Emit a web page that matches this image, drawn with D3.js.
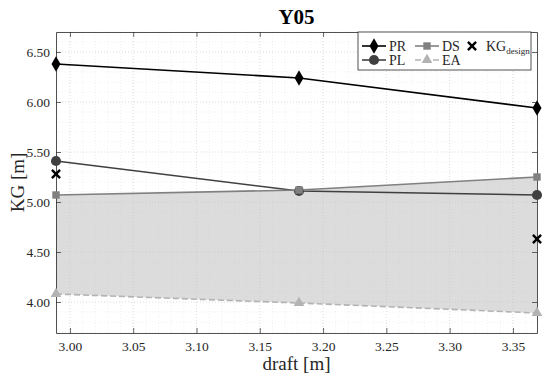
<!DOCTYPE html>
<html>
<head>
<meta charset="utf-8">
<script src="https://cdn.jsdelivr.net/npm/d3@7"></script>
<style>
  body { margin: 0; background: #fff; }
  svg { display: block; font-family: "Liberation Serif", "DejaVu Serif", serif; }
  svg text { font-family: "Liberation Serif", "DejaVu Serif", serif; }
</style>
</head>
<body>
<svg width="550" height="379"></svg>
<script>
const width = 550
const height = 379

// data
const draft = [2.989, 3.181, 3.369]
const PR = [6.38, 6.24, 5.94]
const PL = [5.41, 5.11, 5.07]
const DS = [5.07, 5.12, 5.25]
const EA = [4.08, 3.99, 3.89]
const kgDesign = [[2.989, 5.28], [3.369, 4.63]]

const xTicks = [3.00, 3.05, 3.10, 3.15, 3.20, 3.25, 3.30, 3.35]
const yTicks = [4.00, 4.50, 5.00, 5.50, 6.00, 6.50]

const margin = {top: 32, right: 13, bottom: 46, left: 56}

const svg = d3.select('svg')

const x = d3.scaleLinear()
  .domain([2.989, 3.369])
  .range([margin.left, width - margin.right])

const y = d3.scaleLinear()
  .domain([3.69, 6.70])
  .range([height - margin.bottom, margin.top])

const x0 = margin.left, x1 = width - margin.right
const y0 = height - margin.bottom, y1 = margin.top

// minor grid
const xMinor = d3.range(2.99, 3.37, 0.01)
const yMinor = d3.range(3.7, 6.71, 0.1)
const grid = svg.append('g')
grid.selectAll('.xm').data(xMinor).join('line')
  .attr('x1', d => x(d)).attr('x2', d => x(d))
  .attr('y1', y1).attr('y2', y0)
  .attr('stroke', '#e6e6e6').attr('stroke-width', 0.6)
  .attr('stroke-dasharray', '1,2')
grid.selectAll('.ym').data(yMinor).join('line')
  .attr('y1', d => y(d)).attr('y2', d => y(d))
  .attr('x1', x0).attr('x2', x1)
  .attr('stroke', '#e6e6e6').attr('stroke-width', 0.6)
  .attr('stroke-dasharray', '1,2')
// major grid
grid.selectAll('.xM').data(xTicks).join('line')
  .attr('x1', d => x(d)).attr('x2', d => x(d))
  .attr('y1', y1).attr('y2', y0)
  .attr('stroke', '#d8d8d8').attr('stroke-width', 0.7)
  .attr('stroke-dasharray', '1,2')
grid.selectAll('.yM').data(yTicks).join('line')
  .attr('y1', d => y(d)).attr('y2', d => y(d))
  .attr('x1', x0).attr('x2', x1)
  .attr('stroke', '#d8d8d8').attr('stroke-width', 0.7)
  .attr('stroke-dasharray', '1,2')

// shaded band between DS and EA
const band = d3.area()
  .x((d, i) => x(draft[i]))
  .y0((d, i) => y(EA[i]))
  .y1(d => y(d))
svg.append('path')
  .datum(DS)
  .attr('d', band)
  .attr('fill', '#c4c4c4')
  .attr('fill-opacity', 0.6)

// axes (ticks inside, on all four sides)
const fmt = d3.format('.2f')
const styleAxis = g => {
  g.attr('font-family', '"Liberation Serif", serif').attr('font-size', 13.5)
  g.select('.domain').attr('stroke', '#262626').attr('stroke-width', 0.8)
  g.selectAll('.tick line').attr('stroke', '#262626').attr('stroke-width', 0.7)
  g.selectAll('.tick text').attr('fill', '#262626')
}
svg.append('g')
  .attr('transform', `translate(0,${y0})`)
  .call(d3.axisBottom(x).tickValues(xTicks).tickFormat(fmt).tickSizeInner(-5).tickSizeOuter(0).tickPadding(8))
  .call(styleAxis)
svg.append('g')
  .attr('transform', `translate(0,${y1})`)
  .call(d3.axisTop(x).tickValues(xTicks).tickFormat('').tickSizeInner(-5).tickSizeOuter(0))
  .call(styleAxis)
svg.append('g')
  .attr('transform', `translate(${x0},0)`)
  .call(d3.axisLeft(y).tickValues(yTicks).tickFormat(fmt).tickSizeInner(-5).tickSizeOuter(0).tickPadding(6))
  .call(styleAxis)
svg.append('g')
  .attr('transform', `translate(${x1},0)`)
  .call(d3.axisRight(y).tickValues(yTicks).tickFormat('').tickSizeInner(-5).tickSizeOuter(0))
  .call(styleAxis)

// series
const series = [
  {name: 'PR', values: PR, color: '#000000', symbol: d3.symbolDiamond, size: 70, dash: null},
  {name: 'PL', values: PL, color: '#404040', symbol: d3.symbolCircle, size: 80, dash: null},
  {name: 'DS', values: DS, color: '#808080', symbol: d3.symbolSquare, size: 55, dash: null},
  {name: 'EA', values: EA, color: '#b3b3b3', symbol: d3.symbolTriangle, size: 50, dash: '6,3'}
]

const line = d3.line()
  .x((d, i) => x(draft[i]))
  .y(d => y(d))

const plot = svg.append('g')
series.forEach(s => {
  plot.append('path')
    .datum(s.values)
    .attr('d', line)
    .attr('fill', 'none')
    .attr('stroke', s.color)
    .attr('stroke-width', 1.6)
    .attr('stroke-dasharray', s.dash)
  plot.selectAll(null).data(s.values).join('path')
    .attr('transform', (d, i) => `translate(${x(draft[i])},${y(d)})`)
    .attr('d', d3.symbol(s.symbol, s.size))
    .attr('fill', s.color)
})

// KG design crosses
const cross = d3.symbol(d3.symbolX, 45)
plot.selectAll(null).data(kgDesign).join('path')
  .attr('transform', d => `translate(${x(d[0])},${y(d[1])})`)
  .attr('d', cross)
  .attr('fill', 'none')
  .attr('stroke', '#000')
  .attr('stroke-width', 2.4)

// legend
const legend = svg.append('g').attr('transform', 'translate(358,32)')
legend.append('rect')
  .attr('width', 173).attr('height', 38)
  .attr('fill', '#fff').attr('stroke', '#262626').attr('stroke-width', 0.8)

const legendPos = [[4, 14], [4, 28], [57, 14], [57, 28]]
series.forEach((s, i) => {
  const [lx, ly] = legendPos[i]
  const item = legend.append('g').attr('transform', `translate(${lx},${ly})`)
  item.append('line')
    .attr('x1', 0).attr('x2', 24)
    .attr('stroke', s.color).attr('stroke-width', 1.6)
    .attr('stroke-dasharray', s.dash)
  item.append('path')
    .attr('transform', 'translate(12,0)')
    .attr('d', d3.symbol(s.symbol, s.size)())
    .attr('fill', s.color)
  item.append('text')
    .attr('x', 27).attr('y', 5)
    .style('font-size', '14px')
    .attr('fill', '#262626')
    .text(s.name)
})
const kgItem = legend.append('g').attr('transform', 'translate(114,14)')
kgItem.append('path')
  .attr('d', cross())
  .attr('fill', 'none').attr('stroke', '#000').attr('stroke-width', 2.4)
const kgText = kgItem.append('text')
  .attr('x', 14).attr('y', 5)
  .style('font-size', '14px')
  .attr('fill', '#262626')
kgText.append('tspan').text('KG')
kgText.append('tspan').attr('dy', 3).style('font-size', '9px').text('design')

// title and axis labels
svg.append('text')
  .attr('x', (x0 + x1) / 2).attr('y', 24)
  .attr('text-anchor', 'middle')
  .style('font-size', '21px').style('font-weight', 'bold')
  .text('Y05')

svg.append('text')
  .attr('x', (x0 + x1) / 2).attr('y', 370)
  .attr('text-anchor', 'middle')
  .style('font-size', '19px')
  .attr('fill', '#262626')
  .text('draft [m]')

svg.append('text')
  .attr('transform', `translate(24,${(y0 + y1) / 2}) rotate(-90)`)
  .attr('text-anchor', 'middle')
  .style('font-size', '19px')
  .attr('fill', '#262626')
  .text('KG [m]')
</script>
</body>
</html>
